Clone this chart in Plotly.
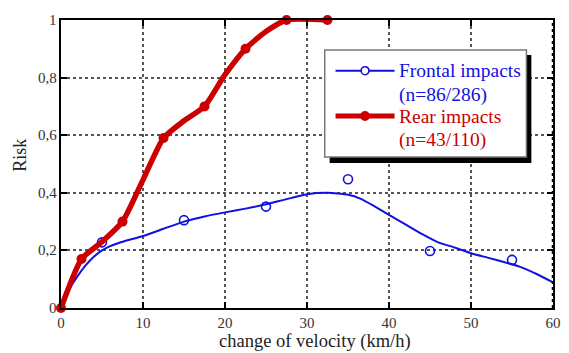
import plotly.graph_objects as go

# ---- data ----
rear_x = [0, 2.5, 5, 7.5, 10, 12.5, 15, 17.5, 20, 22.5, 25, 27.5, 32.5]
rear_y = [0, 0.17, 0.23, 0.30, 0.445, 0.59, 0.65, 0.70, 0.81, 0.90, 0.96, 1.0, 1.0]
rear_mk_x = [0, 2.5, 7.5, 12.5, 17.5, 22.5, 27.5, 32.5]
rear_mk_y = [0, 0.17, 0.30, 0.59, 0.70, 0.90, 1.0, 1.0]

front_fit_x = [0, 0.5, 1, 2, 3, 4, 5, 6, 7.5, 10, 12.5, 15, 17.5, 20, 22.5, 25, 27.5, 30, 32.5, 35, 36.5,
               38, 40, 42, 44, 46, 48, 50, 52, 54, 56, 58, 60]
front_fit_y = [0, 0.035, 0.065, 0.11, 0.148, 0.178, 0.20, 0.215, 0.230, 0.250, 0.275, 0.300, 0.318,
               0.332, 0.345, 0.360, 0.378, 0.395, 0.400, 0.393, 0.380, 0.357, 0.323, 0.290, 0.257,
               0.228, 0.210, 0.190, 0.175, 0.160, 0.143, 0.118, 0.089]
front_obs_x = [5, 15, 25, 35, 45, 55]
front_obs_y = [0.228, 0.305, 0.352, 0.447, 0.198, 0.167]

x_ticks = [0, 10, 20, 30, 40, 50, 60]
y_ticks = [0, 0.2, 0.4, 0.6, 0.8, 1]
y_tick_text = ["0", "0,2", "0,4", "0,6", "0,8", "1"]

legend_lines = [("Frontal impacts", "(n=86/286)"), ("Rear impacts", "(n=43/110)")]

BLUE = "#1010e0"
RED = "#cc0000"
FONT = "Times New Roman, Liberation Serif, serif"

W, H = 569, 353
L, R, T, B = 61, 561, 20, 308


def px(x):
    return (x - L) / (R - L)


def py(y):
    return (B - y) / (B - T)


fig = go.Figure()

fig.add_trace(go.Scatter(x=front_fit_x, y=front_fit_y, mode="lines",
                         line=dict(color=BLUE, width=2, shape="spline", smoothing=0.5),
                         cliponaxis=False, showlegend=False))
fig.add_trace(go.Scatter(x=front_obs_x, y=front_obs_y, mode="markers",
                         marker=dict(symbol="circle-open", size=9, color=BLUE, line=dict(width=1.6)),
                         cliponaxis=False, showlegend=False))
fig.add_trace(go.Scatter(x=rear_x, y=rear_y, mode="lines",
                         line=dict(color=RED, width=5.5, shape="spline", smoothing=0.6),
                         cliponaxis=False, showlegend=False))
fig.add_trace(go.Scatter(x=rear_mk_x, y=rear_mk_y, mode="markers",
                         marker=dict(symbol="circle", size=10, color=RED),
                         cliponaxis=False, showlegend=False))

shapes = []
# legend box with shadow
shapes.append(dict(type="rect", xref="paper", yref="paper",
                   x0=px(334), x1=px(539), y0=py(163), y1=py(55),
                   fillcolor="black", line=dict(width=0), layer="above"))
shapes.append(dict(type="rect", xref="paper", yref="paper",
                   x0=px(329), x1=px(534), y0=py(157), y1=py(50),
                   fillcolor="white", line=dict(color="#777777", width=1.5), layer="above"))
# right border (dotted)
shapes.append(dict(type="line", xref="paper", yref="paper", x0=1, x1=1, y0=0, y1=1,
                   line=dict(color="black", width=2.5, dash="dot"), layer="above"))

annotations = []
colors = [BLUE, RED]
sample_y = [70.7, 116]
for i, (l1, l2) in enumerate(legend_lines):
    yy = sample_y[i]
    shapes.append(dict(type="line", xref="paper", yref="paper",
                       x0=px(340), x1=px(400), y0=py(yy), y1=py(yy),
                       line=dict(color=colors[i], width=2 if i == 0 else 5), layer="above"))
    annotations.append(dict(xref="paper", yref="paper", x=px(402), y=py(yy), text=l1,
                            showarrow=False, xanchor="left", yanchor="middle",
                            font=dict(family=FONT, size=19.5, color=colors[i])))
    annotations.append(dict(xref="paper", yref="paper", x=px(402), y=py(yy + 24), text=l2,
                            showarrow=False, xanchor="left", yanchor="middle",
                            font=dict(family=FONT, size=19.5, color=colors[i])))

shapes.append(dict(type="circle", xref="paper", yref="paper",
                   x0=px(366), x1=px(374), y0=py(74.7), y1=py(66.7),
                   line=dict(color=BLUE, width=1.6), fillcolor="white", layer="above"))
shapes.append(dict(type="circle", xref="paper", yref="paper",
                   x0=px(365), x1=px(375), y0=py(121), y1=py(111),
                   line=dict(color=RED, width=0), fillcolor=RED, layer="above"))

# y tick labels placed close to the axis line
for v, t in zip(y_ticks, y_tick_text):
    annotations.append(dict(xref="paper", yref="y", x=px(59), y=v, text=t,
                            showarrow=False, xanchor="right", yanchor="middle",
                            font=dict(family=FONT, size=15, color="#333333")))

# axis titles
annotations.append(dict(xref="paper", yref="paper", x=px(319), y=py(341), text="change of velocity (km/h)",
                        showarrow=False, xanchor="center", yanchor="middle",
                        font=dict(family=FONT, size=18.5, color="#222222")))
annotations.append(dict(xref="paper", yref="paper", x=px(19), y=py(155), text="Risk", textangle=-90,
                        showarrow=False, xanchor="center", yanchor="middle",
                        font=dict(family=FONT, size=18, color="#222222")))

axis_common = dict(showgrid=True, gridcolor="#555555", gridwidth=2, griddash="dot",
                   showline=True, linecolor="black", linewidth=2, mirror="ticks",
                   ticks="inside", ticklen=6, tickwidth=2, tickcolor="black",
                   zeroline=False, tickfont=dict(family=FONT, size=15, color="#333333"),
                   fixedrange=True)

fig.update_layout(
    width=W, height=H,
    margin=dict(l=L, r=W - R, t=T, b=H - B),
    paper_bgcolor="white", plot_bgcolor="white",
    xaxis=dict(range=[0, 60], tickvals=x_ticks, ticktext=[str(v) for v in x_ticks], **axis_common),
    yaxis=dict(range=[0, 1], tickvals=y_ticks, showticklabels=False, **axis_common),
    shapes=shapes, annotations=annotations, showlegend=False,
)

fig.write_html("out.html")
